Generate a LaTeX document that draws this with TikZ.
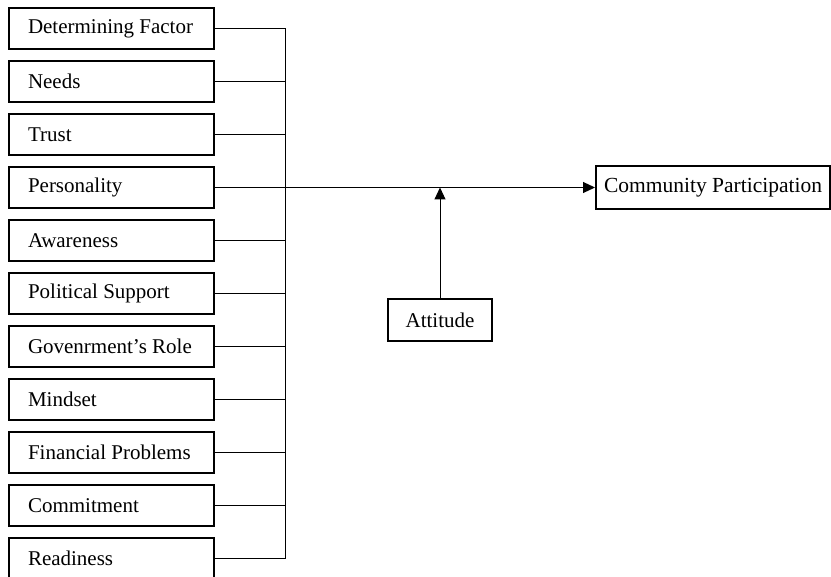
\documentclass[tikz,border=0pt]{standalone}
\usepackage{fontspec}
\setmainfont{Liberation Serif}
\usetikzlibrary{arrows.meta}
\begin{document}
\begin{tikzpicture}[x=1pt,y=-1pt,
  box/.style={draw, line width=2pt, rectangle, minimum height=41pt, inner sep=0pt, font=\fontsize{21}{23}\selectfont},
  leftbox/.style={box, inner xsep=19pt},
  conn/.style={line width=1pt},
  arr/.style={conn, -{Triangle[length=12pt,width=11pt]}}]
\useasboundingbox (0,0) rectangle (831,577);
\foreach \n/\t [count=\i from 0] in {f1/Determining Factor, f2/Needs, f3/Trust, f4/Personality, f5/Awareness, f6/Political Support, f7/Govenrment’s Role, f8/Mindset, f9/Financial Problems, f10/Commitment, f11/Readiness}{
  \node[leftbox] (\n) at (111.5, 28.5+53*\i) {\makebox[167pt][l]{\t}};
}
\coordinate (btop) at (285, 28.5);
\coordinate (bbot) at (285, 558.5);
\draw[conn] (btop) -- (bbot);
\foreach \n in {f1,f2,f3,f5,f6,f7,f8,f9,f10,f11}{
  \draw[conn] (\n.east) -- (\n.east -| btop);
}
\node[box, minimum width=234pt, minimum height=43pt, font=\fontsize{21.5}{23}\selectfont] (cp) at (713, 187.5) {Community Participation};
\node[box, minimum width=104pt, minimum height=42pt] (att) at (440, 320) {Attitude};
\draw[arr] (f4.east) -- (cp.west);
\coordinate (j) at (att.north |- f4.east);
\draw[arr] (att.north) -- (j);
\end{tikzpicture}
\end{document}
